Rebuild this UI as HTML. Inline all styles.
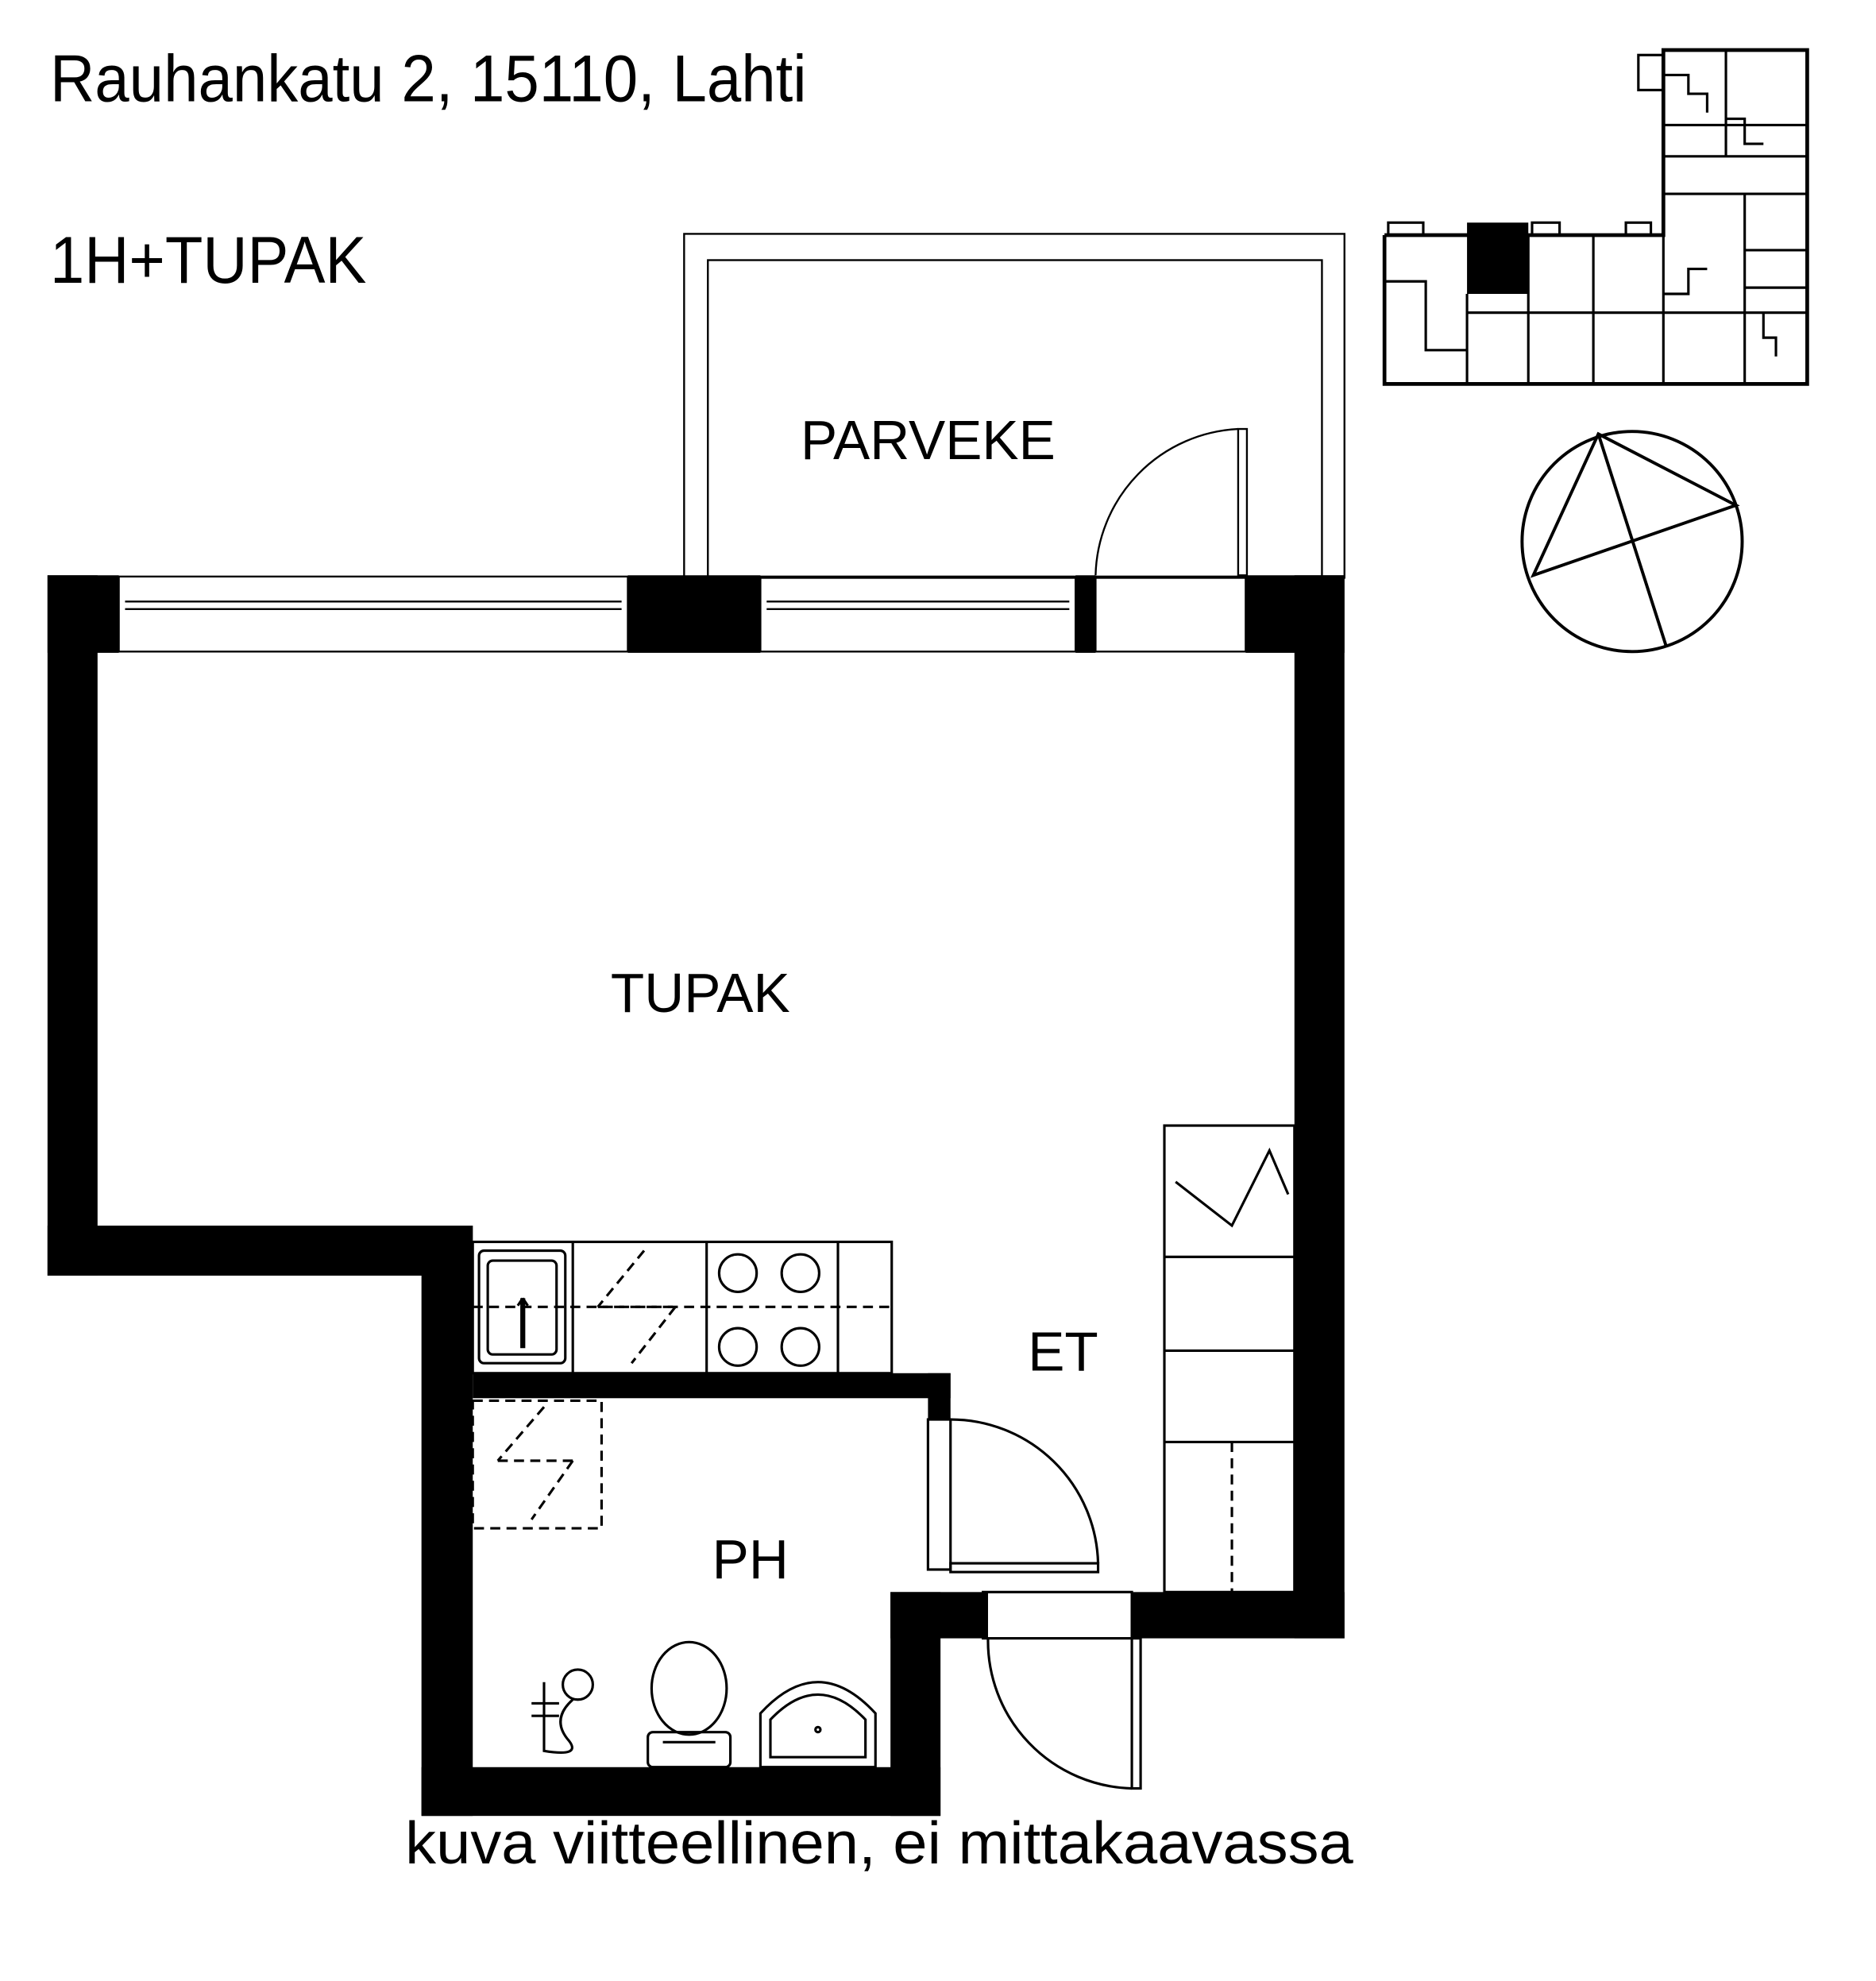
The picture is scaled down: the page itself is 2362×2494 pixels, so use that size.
<!DOCTYPE html>
<html><head><meta charset="utf-8"><style>
html,body{margin:0;padding:0;background:#fff}
svg{display:block}
text{font-family:"Liberation Sans Narrow","Liberation Sans",sans-serif;fill:#000}
.l{font-family:"Liberation Sans",sans-serif}
</style></head><body>
<svg width="2362" height="2494" viewBox="0 0 1500 1584" preserveAspectRatio="none" xmlns="http://www.w3.org/2000/svg">
<rect width="1500" height="1584" fill="#fff"/>
<text x="40" y="81" font-size="53" textLength="605" lengthAdjust="spacingAndGlyphs">Rauhankatu 2, 15110, Lahti</text>
<text x="40" y="226" font-size="53" textLength="253" lengthAdjust="spacingAndGlyphs">1H+TUPAK</text>
<text x="703" y="1490" font-size="48" text-anchor="middle" textLength="758" lengthAdjust="spacingAndGlyphs">kuva viitteellinen, ei mittakaavassa</text>

<g fill="none" stroke="#000" stroke-width="1.5">
<rect x="547" y="187" width="528" height="275"/>
<rect x="566" y="208" width="491" height="254"/>
</g>
<text class="l" x="742" y="367" font-size="44" text-anchor="middle">PARVEKE</text>

<g fill="#000">
<rect x="38" y="460" width="57" height="62"/>
<rect x="502" y="460" width="106" height="62"/>
<rect x="860" y="460" width="16" height="62"/>
<rect x="996" y="460" width="79" height="62"/>
<rect x="38" y="460" width="40" height="560"/>
<rect x="38" y="980" width="340" height="40"/>
<rect x="337" y="980" width="41" height="472"/>
<rect x="337" y="1413" width="415" height="39"/>
<rect x="712" y="1273" width="40" height="179"/>
<rect x="712" y="1273" width="78" height="37"/>
<rect x="905" y="1273" width="170" height="37"/>
<rect x="1035" y="460" width="40" height="850"/>
<rect x="378" y="1098" width="382" height="20"/>
<rect x="742" y="1098" width="18" height="37"/>
</g>
<g fill="none" stroke="#000" stroke-width="1.5">
<rect x="95" y="461" width="407" height="60"/>
<line x1="100" y1="481" x2="497" y2="481"/><line x1="100" y1="487" x2="497" y2="487"/>
<rect x="608" y="461" width="252" height="60"/>
<line x1="613" y1="481" x2="855" y2="481"/><line x1="613" y1="487" x2="855" y2="487"/>
<rect x="876" y="461" width="120" height="60"/>
<rect x="990" y="343" width="7" height="117"/>
<path d="M876 460 A120 120 0 0 1 990 343"/>
</g>
<text class="l" x="560" y="809" font-size="44" text-anchor="middle">TUPAK</text>

<g fill="none" stroke="#000" stroke-width="2">
<rect x="378" y="993" width="335" height="105"/>
<line x1="458" y1="993" x2="458" y2="1098"/>
<line x1="565" y1="993" x2="565" y2="1098"/>
<line x1="670" y1="993" x2="670" y2="1098"/>
<line x1="378" y1="1045" x2="713" y2="1045" stroke-dasharray="8 5"/>
<rect x="383" y="1000" width="69" height="90" rx="4"/>
<rect x="390" y="1008" width="55" height="75" rx="4"/>
<line x1="418" y1="1038" x2="418" y2="1078" stroke-width="4"/>
<path d="M418 1038 l-4 6 M418 1038 l4 6"/>
<circle cx="590" cy="1018" r="15"/><circle cx="640" cy="1018" r="15"/>
<circle cx="590" cy="1077" r="15"/><circle cx="640" cy="1077" r="15"/>
<g stroke-dasharray="8 5">
<line x1="515" y1="1000" x2="478" y2="1045"/>
<line x1="478" y1="1045" x2="540" y2="1045"/>
<line x1="540" y1="1045" x2="505" y2="1090"/>
</g>
</g>

<g fill="none" stroke="#000" stroke-width="2">
<rect x="931" y="900" width="104" height="373"/>
<line x1="931" y1="1005" x2="1035" y2="1005"/>
<line x1="931" y1="1080" x2="1035" y2="1080"/>
<line x1="931" y1="1153" x2="1035" y2="1153"/>
<line x1="985" y1="1153" x2="985" y2="1273" stroke-dasharray="8 5"/>
<polyline points="940,945 985,980 1015,920 1030,955"/>
</g>
<text class="l" x="850" y="1096" font-size="44" text-anchor="middle">ET</text>

<g fill="none" stroke="#000" stroke-width="2">
<g stroke-dasharray="8 5">
<rect x="378" y="1120" width="103" height="102"/>
<line x1="435" y1="1125" x2="398" y2="1168"/>
<line x1="398" y1="1168" x2="458" y2="1168"/>
<line x1="458" y1="1168" x2="425" y2="1215"/>
</g>
<rect x="742" y="1135" width="18" height="120"/>
<rect x="760" y="1250" width="118" height="7"/>
<path d="M760 1135 A118 118 0 0 1 878 1250"/>
<rect x="786" y="1273" width="119" height="37"/>
<rect x="905" y="1310" width="7" height="120"/>
<path d="M790 1310 A118 118 0 0 0 905 1430"/>
<ellipse cx="551" cy="1350" rx="30" ry="37"/>
<rect x="518" y="1385" width="66" height="28" rx="4"/>
<line x1="530" y1="1393" x2="572" y2="1393"/>
<path d="M608 1413 L608 1370 Q654 1320 700 1370 L700 1413 Z"/>
<path d="M616 1405 L616 1375 Q654 1335 692 1375 L692 1405 Z"/>
<circle cx="654" cy="1383" r="2"/>
<circle cx="462" cy="1347" r="12"/>
<path d="M458 1359 Q440 1375 455 1392 Q465 1405 435 1400 L435 1345"/>
<line x1="425" y1="1362" x2="447" y2="1362"/>
<line x1="425" y1="1372" x2="447" y2="1372"/>
</g>
<text class="l" x="600" y="1262" font-size="44" text-anchor="middle">PH</text>

<g fill="none" stroke="#000" stroke-width="2.5">
<circle cx="1305" cy="433" r="88"/>
<polygon points="1278,347 1226,460 1388,404"/>
<line x1="1278" y1="347" x2="1332" y2="516"/>
</g>

<g fill="none" stroke="#000" stroke-width="2">
<polyline points="1107,188 1107,307 1445,307 1445,40 1330,40 1330,188 1107,188" stroke-width="3"/>
<rect x="1310" y="44" width="20" height="28"/>
<line x1="1330" y1="100" x2="1445" y2="100"/>
<line x1="1330" y1="125" x2="1445" y2="125"/>
<line x1="1330" y1="155" x2="1445" y2="155"/>
<line x1="1380" y1="40" x2="1380" y2="125"/>
<line x1="1395" y1="155" x2="1395" y2="307"/>
<line x1="1330" y1="188" x2="1330" y2="307"/>
<line x1="1173" y1="250" x2="1445" y2="250"/>
<line x1="1222" y1="188" x2="1222" y2="307"/>
<line x1="1274" y1="188" x2="1274" y2="307"/>
<line x1="1173" y1="235" x2="1173" y2="307"/>
<line x1="1395" y1="200" x2="1445" y2="200"/>
<line x1="1395" y1="230" x2="1445" y2="230"/>
<polyline points="1107,225 1140,225 1140,280 1173,280"/>
<polyline points="1330,60 1350,60 1350,75 1365,75 1365,90"/>
<polyline points="1380,95 1395,95 1395,115 1410,115"/>
<polyline points="1330,235 1350,235 1350,215 1365,215"/>
<polyline points="1410,250 1410,270 1420,270 1420,285"/>
<rect x="1110" y="178" width="28" height="10"/>
<rect x="1225" y="178" width="22" height="10"/>
<rect x="1300" y="178" width="20" height="10"/>
</g>
<rect x="1173" y="178" width="49" height="57" fill="#000"/>
</svg>
</body></html>
